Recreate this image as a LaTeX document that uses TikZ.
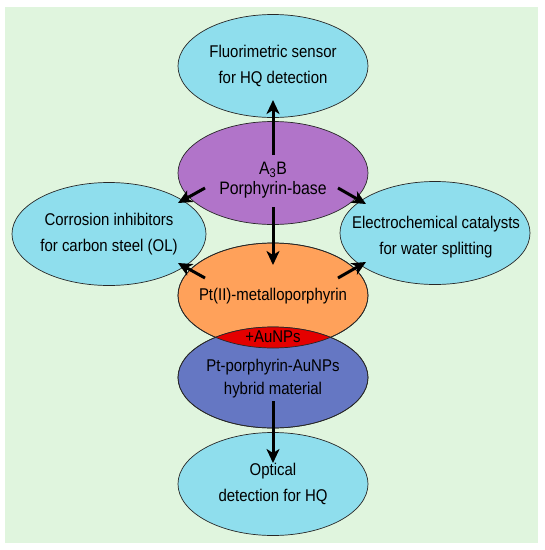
\documentclass[tikz,border=0pt]{standalone}
\usepackage{fontspec}
\setmainfont{Liberation Sans}[FakeStretch=0.88]
\usetikzlibrary{shapes.geometric,arrows.meta,calc}
\definecolor{bggreen}{RGB}{224,245,222}
\definecolor{cyanfill}{RGB}{143,222,237}
\definecolor{purplefill}{RGB}{177,116,201}
\definecolor{orangefill}{RGB}{255,161,90}
\definecolor{bluefill}{RGB}{101,119,195}
\definecolor{redfill}{RGB}{228,0,0}
\definecolor{outline}{RGB}{40,40,40}
\begin{document}
\begin{tikzpicture}[x=1pt,y=-1pt,
  oval/.style={ellipse, draw=outline, line width=0.7pt, minimum width=190pt,
    minimum height=103pt, inner sep=0pt, align=center,
    font=\fontsize{17}{26}\selectfont},
  lbl/.style={font=\fontsize{17}{26}\selectfont, align=center, inner sep=0pt},
  conn/.style={line width=3pt, -{Stealth[length=14pt,width=13pt,inset=4pt]}}
]
\useasboundingbox (0,0) rectangle (545,550);
\fill[white] (0,0) rectangle (545,550);
\fill[bggreen] (5,7) rectangle (538,543);

\node[oval, fill=cyanfill] (top) at (273,66) {Fluorimetric sensor\\for HQ detection};
\node[oval, fill=purplefill] (base) at (273,173) {};
\node[lbl, font=\fontsize{18}{20}\selectfont] (basetext) at (273,180)
  {A\textsubscript{3}B\\Porphyrin-base};
\node[oval, fill=cyanfill] (left) at (109,234) {Corrosion inhibitors\\for carbon steel (OL)};
\node[oval, fill=cyanfill] (right) at (435,233) {};
\node[lbl] (righttext) at (436,237)
  {Electrochemical catalysts\\for water splitting};
\node[oval, fill=orangefill, minimum height=105pt] (orange) at (273,295.5) {};
\node[oval, fill=bluefill, minimum height=101pt] (blue) at (273,377.5) {};
\begin{scope}
  \clip (orange.center) ellipse [x radius=95pt, y radius=52.5pt];
  \fill[redfill] (blue.center) ellipse [x radius=95pt, y radius=50.5pt];
\end{scope}
\draw[outline, line width=0.7pt] (orange.center) ellipse [x radius=95pt, y radius=52.5pt];
\draw[outline, line width=0.7pt] (blue.center) ellipse [x radius=95pt, y radius=50.5pt];
\node[lbl] (oranget) at (273,296) {Pt(II)-metalloporphyrin};
\node[lbl] (aunp) at (273,337) {+AuNPs};
\node[lbl, font=\fontsize{17}{23}\selectfont] (bluet) at (273,378.5)
  {Pt-porphyrin-AuNPs\\hybrid material};
\node[oval, fill=cyanfill] (bottom) at (273,484) {Optical\\detection for HQ};

\draw[conn] ([shift={(0,-18)}]base.center) -- ([shift={(0,34)}]top.center);
\draw[conn] ([shift={(0,34)}]base.center) -- ([shift={(0,-30.5)}]orange.center);
\draw[conn] ([shift={(-68,15)}]base.center) -- ([shift={(69,-31)}]left.center);
\draw[conn] ([shift={(-68,-17.5)}]orange.center) -- ([shift={(69,29)}]left.center);
\draw[conn] ([shift={(65,15)}]base.center) -- ([shift={(-69,-29)}]right.center);
\draw[conn] ([shift={(65,-17.5)}]orange.center) -- ([shift={(-69,29)}]right.center);
\draw[conn] ([shift={(0,23.5)}]blue.center) -- ([shift={(0,-21)}]bottom.center);
\end{tikzpicture}
\end{document}
